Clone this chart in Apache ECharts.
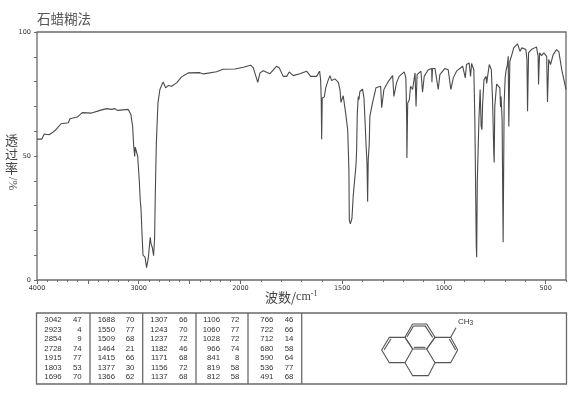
<!DOCTYPE html>
<html><head><meta charset="utf-8">
<style>html,body{margin:0;padding:0;background:#fff}#c{width:570px;height:394px}</style>
<script src="https://cdn.jsdelivr.net/npm/echarts@6/dist/echarts.min.js"></script>
</head><body><div id="c"></div>
<script>
const wavenumbers=[4000,3954,3928,3882,3840,3807,3764,3692,3676,3604,3555,3463,3381,3316,3267,3234,3211,3103,3077,3060,3050,3040,3034,3024,3010,2995,2985,2978,2968,2958,2938,2923,2906,2887,2880,2866,2854,2844,2837,2827,2811,2792,2760,2736,2710,2677,2628,2579,2514,2400,2361,2236,2170,2055,1986,1950,1937,1924,1915,1904,1888,1855,1822,1809,1790,1773,1760,1741,1708,1675,1655,1626,1611,1606,1603,1601,1598,1588,1581,1571,1560,1552,1536,1519,1511,1506,1495,1483,1473,1467,1465,1460,1452,1446,1432,1429,1426,1421,1418,1413,1400,1393,1388,1383,1378,1375,1372,1367,1364,1351,1334,1328,1311,1306,1301,1295,1273,1252,1246,1241,1233,1220,1195,1187,1183,1182,1178,1170,1164,1154,1142,1137,1132,1113,1105,1097,1077,1060,1059,1056,1044,1028,1020,995,979,966,954,938,908,902,895,889,876,869,864,853,848,841,839,836,828,822,817,813,810,803,793,790,777,767,761,755,753,750,741,733,725,722,719,714,709,704,699,694,689,684,681,676,666,657,638,626,617,597,592,589,584,570,545,537,535,530,520,509,500,495,491,485,476,463,446,435,421,400];
const transmittance=[56.8,56.8,58.9,58.6,59.7,60.9,63,63.4,65,65.7,67.5,67.3,68.4,69.1,68.8,69.1,68.4,68.8,66.7,61.9,54.5,49.8,53.6,53.6,49.8,40.4,32,29,19,10,9.2,5,8.8,17.2,14.8,13,9.8,16.8,35,55,71.4,76.8,79.9,77.5,78.4,78.1,79.5,81.9,83.5,83.6,83.1,84,85,85.1,85.8,86.6,85.5,82.1,79.7,83.5,84.4,83.2,86.2,85.5,82.1,82.1,83.9,82.4,83.2,84.2,82.1,82.1,84.2,80.8,72.7,56.8,73.4,73.8,77.5,80.1,82.4,80.4,81.1,79.7,76.8,71.6,74.3,67.3,60.6,44.4,24.2,22.6,24.9,33.7,46.5,52.5,66.7,74,72.7,76,77,73.4,64.6,55,47,31.6,48.5,55,66,71.4,77.5,78.1,78.1,69.5,72.7,76.8,80.1,82.4,74,73.8,79.5,82.1,83.9,81.5,64.6,49.2,71.4,72.7,78.1,76.8,83.5,70,82.8,84.2,75.7,82.1,84.8,85.3,79.7,85.3,85.3,76.8,82.8,85.3,84.8,76.8,81.5,84.2,86.2,86.9,81.5,86.9,87.5,82.1,87.3,84.8,64.6,13.5,9.2,39.7,64.6,76.8,61.9,60.6,70.7,80.8,82.1,79.3,86.9,84.8,72.7,51.2,47.4,70,79,79.5,77.5,69.8,74,64.6,15.2,71.4,81.5,84.8,86.2,90.2,61.9,88.2,90.9,93.6,95.2,92.2,93.6,92.9,88.9,68,91.6,92.9,94,90.2,78.8,91.6,90.5,91.6,92.2,90.2,71.8,88.9,86.9,90.9,92.9,92,84.8,76.8];
const xLabelValues=[4000,3000,2000,1500,1000,500];
const xMajorTicks=[4000,3500,3000,2500,2000,1500,1000,500];
const xMinorTicksHigh=[4000,3900,3800,3700,3600,3500,3400,3300,3200,3100,3000,2900,2800,2700,2600,2500,2400,2300,2200,2100,2000];
const xMinorTicksLow=[1900,1800,1700,1600,1500,1400,1300,1200,1100,1000,900,800,700,600,500,400];
const yLabelValues=[0,50,100];
const peakWave=[[3042,2923,2854,2728,1915,1803,1696],[1688,1550,1509,1464,1415,1377,1366],[1307,1243,1237,1182,1171,1156,1137],[1106,1060,1028,966,841,819,812],[766,722,712,680,590,536,491]];
const peakTrans=[[47,4,9,74,77,53,70],[70,77,68,21,66,30,62],[66,70,72,46,68,72,68],[72,77,72,74,8,58,58],[46,66,14,58,64,77,68]];
const titleText='石蜡糊法';

const toU=w=>w>=2000?(4000-w)/2:3000-w;
const toW=u=>u<=1000?4000-2*u:3000-u;
const ink='#4a4a4a', frame='#6a6a6a';
const font='"Liberation Sans",sans-serif';
const el=[];
el.push({type:'text',left:37,top:12,style:{text:titleText,font:'13.5px "Noto Sans CJK SC"',fill:'#555'}});
['透','过','率'].forEach((t,i)=>el.push({type:'text',x:5,y:134+i*14,style:{text:t,font:'13px "Noto Sans CJK SC"',fill:'#444'}}));
el.push({type:'text',x:6,y:177,rotation:-Math.PI/2,style:{text:'/%',font:'12px "Liberation Serif"',fill:'#444',verticalAlign:'bottom'}});
el.push({type:'text',x:265,y:290,style:{rich:{a:{font:'13px "Noto Sans CJK SC"',fill:'#444'},b:{font:'12px "Liberation Serif"',fill:'#444'},c:{font:'8px "Liberation Serif"',fill:'#444',verticalAlign:'top',padding:[0,0,6,0]}},text:'{a|波数/}{b|cm}{c|-1}'}});
// table
const lineStyle={stroke:frame,lineWidth:1.3,fill:'none'};
el.push({type:'rect',shape:{x:36.5,y:313,width:530,height:71},style:lineStyle});
[90,142.7,196,248,301.7].forEach(x=>el.push({type:'line',shape:{x1:x,y1:313,x2:x,y2:384},style:lineStyle}));
const c1=[61.7,115,167.7,220,273.3], c2=[81.7,134.3,187.7,239.3,293.3];
peakWave.forEach((col,i)=>col.forEach((w,j)=>{
  const y=320+j*9.5;
  el.push({type:'text',x:c1[i],y,style:{text:String(w),font:'7.8px '+font,fill:'#333',align:'right',verticalAlign:'middle'}});
  el.push({type:'text',x:c2[i],y,style:{text:String(peakTrans[i][j]),font:'7.8px '+font,fill:'#333',align:'right',verticalAlign:'middle'}});
}));
// structure
const P=(x,y)=>[290+x/3,305+y/3];
const bondStyle={stroke:'#555',lineWidth:1.1,fill:'none'};
const rings=[[[368,57],[410,57],[435,97],[410,132],[368,132],[345,97]],[[345,97],[298,97],[275,135],[298,173],[345,173],[368,132]],[[435,97],[482,97],[503,135],[482,173],[435,173],[410,132]],[[345,173],[368,212],[415,212],[435,173]]];
rings.forEach(r=>el.push({type:'polyline',shape:{points:r.concat(r.length===6?[r[0]]:[]).map(p=>P(p[0],p[1]))},style:bondStyle}));
[[[372,63],[406,63]],[[351,96],[371,62]],[[405,62],[428,97]],[[303,101],[282,135]],[[478,102],[497,135]],[[372,127],[406,127]]].forEach(b=>el.push({type:'polyline',shape:{points:b.map(p=>P(p[0],p[1]))},style:bondStyle}));
el.push({type:'polyline',shape:{points:[P(482,97),P(498,68)]},style:bondStyle});
el.push({type:'text',x:458,y:317,style:{rich:{a:{font:'8px "Liberation Sans"',fill:'#333'},b:{font:'6.5px "Liberation Sans"',fill:'#333',padding:[3,0,0,0]}},text:'{a|CH}{b|3}'}});

const common={type:'value',min:0,max:2600,position:'bottom',splitLine:{show:false},axisLine:{show:false}};
const option={animation:false,backgroundColor:'#fff',
 grid:{left:37,top:32,width:529,height:248,show:true,borderColor:frame,borderWidth:1.3,backgroundColor:'#fff'},
 xAxis:[
  {...common,axisTick:{show:true,length:2,lineStyle:{color:frame},customValues:xMinorTicksHigh.concat(xMinorTicksLow).map(toU)},
   axisLabel:{show:true,margin:5,fontSize:6.5,fontFamily:'DejaVu Sans',color:'#333',hideOverlap:false,showMinLabel:true,
     customValues:xLabelValues.map(toU),formatter:u=>String(Math.round(toW(u)))}},
  {...common,axisTick:{show:true,length:4,lineStyle:{color:frame},customValues:xMajorTicks.map(toU)},axisLabel:{show:false}}
 ],
 yAxis:{type:'value',min:0,max:100,interval:10,splitLine:{show:false},axisLine:{show:false},
   axisTick:{show:true,length:3,lineStyle:{color:frame}},
   axisLabel:{margin:6,fontSize:6.5,fontFamily:'DejaVu Sans',color:'#333',customValues:yLabelValues}},
 series:[{type:'line',xAxisIndex:0,showSymbol:false,symbol:'none',lineStyle:{color:ink,width:1.1},
   data:wavenumbers.map((w,i)=>[toU(w),transmittance[i]])}],
 graphic:{elements:el}
};
echarts.init(document.getElementById('c'),null,{renderer:'canvas'}).setOption(option);
</script></body></html>
